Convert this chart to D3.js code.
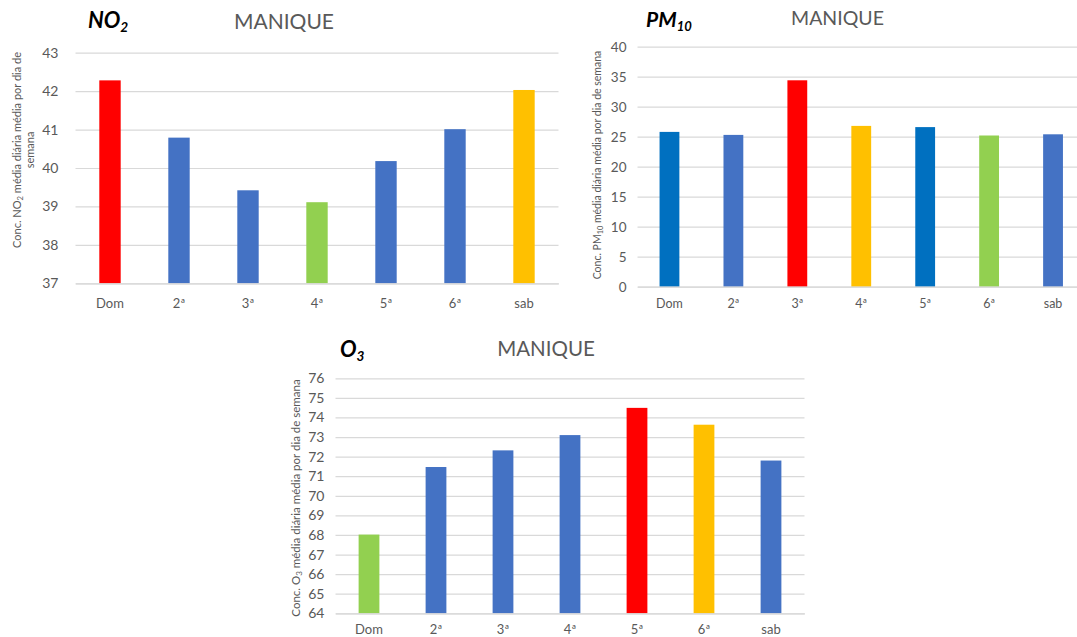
<!DOCTYPE html>
<html>
<head>
<meta charset="utf-8">
<script src="https://cdn.jsdelivr.net/npm/d3@7"></script>
<style>
  html, body { margin: 0; padding: 0; background: #fff; }
  svg { display: block; font-family: Lato, "Liberation Sans", sans-serif; }
</style>
</head>
<body>
<svg id="chart" width="1077" height="637"></svg>
<script>
// Weekday categories shared by all three panels
const days = ["Dom", "2ª", "3ª", "4ª", "5ª", "6ª", "sab"];

// Mean daily concentration per weekday, Manique station
const no2Values  = [42.28, 40.79, 39.42, 39.11, 40.18, 41.01, 42.03];
const pm10Values = [25.8, 25.3, 34.4, 26.8, 26.6, 25.2, 25.4];
const o3Values   = [68.02, 71.47, 72.32, 73.10, 74.49, 73.63, 71.80];

// Y-axis tick values
const no2Ticks  = [37, 38, 39, 40, 41, 42, 43];
const pm10Ticks = [0, 5, 10, 15, 20, 25, 30, 35, 40];
const o3Ticks   = [64, 65, 66, 67, 68, 69, 70, 71, 72, 73, 74, 75, 76];

// Bar colours per weekday
const no2Colors  = ["#FF0000", "#4472C4", "#4472C4", "#92D050", "#4472C4", "#4472C4", "#FFC000"];
const pm10Colors = ["#0070C0", "#4472C4", "#FF0000", "#FFC000", "#0070C0", "#92D050", "#4472C4"];
const o3Colors   = ["#92D050", "#4472C4", "#4472C4", "#4472C4", "#FF0000", "#FFC000", "#4472C4"];

const station = "MANIQUE";

const svg = d3.select("#chart");
const GRID = "#D9D9D9";
const TXT = "#595959";

function drawPanel(cfg) {
  const g = svg.append("g");
  const x = d3.scaleBand().domain(days).range([cfg.x0, cfg.x1])
    .paddingInner(0.69).paddingOuter(0.345);
  const y = d3.scaleLinear().domain([cfg.ticks[0], cfg.ticks[cfg.ticks.length - 1]])
    .range([cfg.yBottom, cfg.yTop]);

  // gridlines + tick labels
  const yAxis = d3.axisLeft(y).tickValues(cfg.ticks).tickFormat(d3.format("d"))
    .tickSize(-(cfg.x1 - cfg.x0)).tickPadding(cfg.tickPad);
  const ya = g.append("g").attr("transform", `translate(${cfg.x0},0)`).call(yAxis);
  ya.select(".domain").remove();
  ya.selectAll(".tick line").attr("stroke", GRID).attr("stroke-width", 1.2);
  ya.selectAll(".tick text").attr("fill", TXT).attr("font-size", cfg.yFont)
    .attr("font-family", "Lato, sans-serif");

  // bars
  g.selectAll("rect.bar").data(cfg.values).join("rect")
    .attr("class", "bar")
    .attr("x", (d, i) => x(days[i]))
    .attr("width", x.bandwidth())
    .attr("y", d => y(d))
    .attr("height", d => y(cfg.ticks[0]) - y(d))
    .attr("fill", (d, i) => cfg.colors[i]);

  // category axis
  const xAxis = d3.axisBottom(x).tickSize(0).tickPadding(cfg.xPad);
  const xa = g.append("g").attr("transform", `translate(0,${cfg.yBottom})`).call(xAxis);
  xa.select(".domain").attr("stroke", GRID).attr("stroke-width", 1.2);
  xa.selectAll(".tick text").attr("fill", TXT).attr("font-size", cfg.xFont)
    .attr("font-family", "Lato, sans-serif");

  // pollutant label (bold italic with subscript)
  const t = g.append("text").attr("x", cfg.labelX).attr("y", cfg.labelY)
    .attr("font-size", cfg.labelFont).attr("font-weight", "bold")
    .attr("font-style", "italic").attr("fill", "#000");
  t.append("tspan").text(cfg.label);
  t.append("tspan").attr("font-size", cfg.labelFont * 0.62).attr("dy", cfg.labelFont * 0.18)
    .text(cfg.labelSub);

  // station name
  g.append("text").attr("x", cfg.stationX).attr("y", cfg.stationY)
    .attr("text-anchor", "middle").attr("font-size", cfg.stationFont)
    .attr("fill", TXT).text(station);

  // y-axis title, rotated
  cfg.yTitle.forEach((line, k) => {
    const tt = g.append("text")
      .attr("transform", `translate(${cfg.yTitleX[k]},${cfg.yTitleY}) rotate(-90)`)
      .attr("text-anchor", "middle").attr("font-size", cfg.yTitleFont).attr("fill", TXT);
    line.forEach(part => {
      const sp = tt.append("tspan").text(part.t);
      if (part.sub) sp.attr("font-size", cfg.yTitleFont * 0.7).attr("dy", 2);
      else if (part.after) sp.attr("dy", -2);
    });
  });
}

drawPanel({
  values: no2Values, colors: no2Colors, ticks: no2Ticks,
  x0: 75.5, x1: 558.5, yTop: 52.7, yBottom: 283.3,
  tickPad: 17, yFont: 14, xFont: 13, xPad: 15,
  label: "NO", labelSub: "2", labelX: 88, labelY: 28, labelFont: 22,
  stationX: 284, stationY: 29, stationFont: 21,
  yTitle: [
    [{t: "Conc. NO"}, {t: "2", sub: true}, {t: " média diária média por dia de", after: true}],
    [{t: "semana"}]
  ],
  yTitleX: [21, 34], yTitleY: 150, yTitleFont: 11
});

drawPanel({
  values: pm10Values, colors: pm10Colors, ticks: pm10Ticks,
  x0: 637.5, x1: 1085, yTop: 46.7, yBottom: 286.7,
  tickPad: 11, yFont: 13.5, xFont: 12.5, xPad: 12,
  label: "PM", labelSub: "10", labelX: 646, labelY: 27, labelFont: 21,
  stationX: 837.5, stationY: 25, stationFont: 19.5,
  yTitle: [
    [{t: "Conc. PM"}, {t: "10", sub: true}, {t: " média diária média por dia de semana", after: true}]
  ],
  yTitleX: [601], yTitleY: 165, yTitleFont: 10.5
});

drawPanel({
  values: o3Values, colors: o3Colors, ticks: o3Ticks,
  x0: 335.5, x1: 804.5, yTop: 378.3, yBottom: 613.3,
  tickPad: 11, yFont: 14, xFont: 13, xPad: 11,
  label: "O", labelSub: "3", labelX: 340, labelY: 357, labelFont: 22,
  stationX: 546, stationY: 356, stationFont: 20.5,
  yTitle: [
    [{t: "Conc. O"}, {t: "3", sub: true}, {t: " média diária média por dia de semana", after: true}]
  ],
  yTitleX: [300], yTitleY: 498, yTitleFont: 11.5
});
</script>
</body>
</html>
